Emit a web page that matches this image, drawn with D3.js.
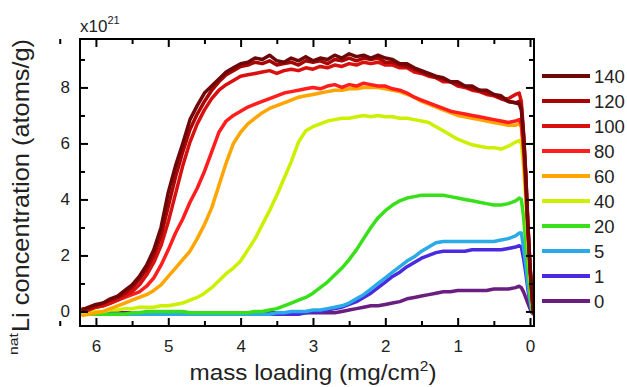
<!DOCTYPE html>
<html>
<head>
<meta charset="utf-8">
<script src="https://cdn.jsdelivr.net/npm/d3@7"></script>
<style>
  body { margin: 0; background: #fff; }
  svg { font-family: "Liberation Sans", Arial, sans-serif; }
  .axis path { display: none; }
  .axis line { stroke: #000; stroke-width: 2; }
  .axis text { font-size: 17px; fill: #222; }
</style>
</head>
<body>
<svg id="chart" width="627" height="387"></svg>
<script>
// mass loading grid (mg/cm^2)
const mass = [6.2,6.1,6.0,5.9,5.8,5.7,5.6,5.5,5.4,5.3,
  5.2,5.1,5.0,4.9,4.8,4.7,4.6,4.5,4.4,4.3,
  4.2,4.1,4.0,3.9,3.8,3.7,3.6,3.5,3.4,3.3,
  3.2,3.1,3.0,2.9,2.8,2.7,2.6,2.5,2.4,2.3,
  2.2,2.1,2.0,1.9,1.8,1.7,1.6,1.5,1.4,1.3,
  1.2,1.1,1.0,0.9,0.8,0.7,0.6,0.5,0.4,0.3,
  0.2,0.15,0.12,0.09,0.06,0.03,0.0,-0.03,-0.05];

// natLi concentration, x10^21 atoms/g
const li140 = [0.05,0.15,0.25,0.3,0.45,0.55,0.75,0.95,1.25,1.65,
  2.2,3.0,4.25,5.2,6.0,6.85,7.35,7.8,8.05,8.3,
  8.55,8.7,8.85,8.9,9.05,9.0,9.15,8.95,8.9,9.05,
  8.95,9.1,8.95,9.05,9.0,9.15,9.05,9.2,9.1,9.15,
  9.05,9.15,9.05,9.0,8.85,8.85,8.7,8.6,8.5,8.4,
  8.35,8.2,8.2,8.05,8.05,7.9,7.9,7.75,7.7,7.5,
  7.45,7.4,7.2,6.3,4.9,3.1,1.6,0.5,-0.1];
const li120 = [0.0,0.1,0.2,0.3,0.4,0.5,0.65,0.85,1.15,1.5,
  2.0,2.7,3.75,4.8,5.7,6.5,7.05,7.5,7.9,8.2,
  8.45,8.6,8.75,8.8,8.9,8.85,8.95,8.8,8.85,8.9,
  8.8,8.95,8.9,8.95,8.85,9.0,8.95,9.05,8.95,9.05,
  9.0,9.05,8.9,8.9,8.8,8.75,8.65,8.55,8.45,8.35,
  8.3,8.2,8.1,8.05,7.95,7.9,7.8,7.75,7.6,7.5,
  7.45,7.5,7.3,6.3,4.9,3.1,1.6,0.5,-0.1];
const li100 = [0.0,0.05,0.15,0.2,0.3,0.4,0.55,0.7,0.95,1.3,
  1.75,2.35,3.2,4.2,5.2,6.05,6.7,7.2,7.6,7.9,
  8.1,8.25,8.4,8.45,8.5,8.55,8.6,8.5,8.6,8.65,
  8.6,8.7,8.65,8.75,8.7,8.8,8.75,8.85,8.8,8.9,
  8.85,8.9,8.8,8.8,8.7,8.7,8.55,8.5,8.4,8.35,
  8.2,8.2,8.05,8.0,7.9,7.85,7.75,7.7,7.6,7.6,
  7.75,7.8,7.5,6.4,5.0,3.2,1.6,0.5,-0.1];
const li80 = [0.1,0.1,0.15,0.2,0.3,0.4,0.5,0.6,0.7,0.9,
  1.2,1.65,2.2,2.8,3.3,3.9,4.4,5.0,5.7,6.4,
  6.8,7.0,7.15,7.3,7.4,7.5,7.6,7.7,7.8,7.85,
  7.9,7.95,8.0,7.95,8.05,8.1,8.0,8.1,8.05,8.15,
  8.1,8.05,8.05,7.95,7.9,7.8,7.65,7.55,7.45,7.35,
  7.25,7.15,7.1,7.05,7.0,6.95,6.9,6.85,6.8,6.75,
  6.8,6.85,6.7,5.8,4.5,2.9,1.5,0.4,-0.1];
const li60 = [-0.15,-0.1,-0.05,0.0,0.1,0.2,0.3,0.4,0.5,0.6,
  0.75,0.95,1.25,1.55,1.85,2.15,2.6,3.1,3.7,4.5,
  5.3,6.0,6.4,6.7,6.9,7.1,7.25,7.35,7.45,7.55,
  7.65,7.7,7.75,7.8,7.85,7.9,7.9,7.95,7.95,8.0,
  8.0,8.0,7.95,7.9,7.85,7.75,7.65,7.5,7.4,7.3,
  7.2,7.1,7.0,6.95,6.9,6.85,6.8,6.75,6.7,6.65,
  6.65,6.7,6.6,5.7,4.4,2.9,1.5,0.4,-0.1];
const li40 = [-0.1,-0.05,0.0,0.0,0.05,0.05,0.1,0.1,0.15,0.15,
  0.15,0.2,0.2,0.25,0.3,0.4,0.5,0.65,0.85,1.1,
  1.35,1.55,1.8,2.2,2.6,3.1,3.6,4.15,4.75,5.35,
  6.05,6.45,6.6,6.7,6.8,6.85,6.9,6.9,6.95,7.0,
  6.95,7.0,6.95,6.95,6.9,6.9,6.85,6.8,6.75,6.6,
  6.45,6.3,6.15,6.05,5.95,5.9,5.85,5.85,5.8,5.9,
  6.05,6.1,6.0,5.2,4.0,2.6,1.3,0.3,-0.1];
const li20 = [-0.1,-0.1,-0.1,-0.1,-0.1,-0.1,-0.1,-0.05,-0.05,0.0,
  0.0,0.0,0.0,0.0,0.0,-0.05,-0.05,-0.05,-0.05,-0.05,
  -0.05,-0.05,-0.05,-0.05,0.0,0.0,0.05,0.1,0.2,0.3,
  0.4,0.5,0.65,0.85,1.05,1.3,1.55,1.85,2.2,2.6,
  3.0,3.35,3.6,3.8,3.95,4.05,4.1,4.15,4.15,4.15,
  4.15,4.1,4.05,4.0,3.95,3.9,3.85,3.8,3.8,3.85,
  3.95,4.05,4.0,3.4,2.5,1.6,0.7,0.0,-0.1];
const li5 = [-0.1,-0.1,-0.1,-0.1,-0.1,-0.1,-0.1,-0.1,-0.1,-0.1,
  -0.1,-0.1,-0.1,-0.1,-0.1,-0.1,-0.1,-0.1,-0.1,-0.1,
  -0.1,-0.1,-0.1,-0.1,-0.1,-0.1,-0.1,-0.05,-0.05,0.0,
  0.0,0.0,0.05,0.05,0.1,0.15,0.2,0.3,0.45,0.6,
  0.8,1.0,1.2,1.4,1.6,1.8,1.95,2.15,2.3,2.45,
  2.5,2.5,2.5,2.5,2.5,2.5,2.5,2.5,2.55,2.6,
  2.7,2.8,2.8,2.3,1.7,1.0,0.4,-0.05,-0.1];
const li1 = [-0.1,-0.1,-0.1,-0.1,-0.1,-0.1,-0.1,-0.1,-0.1,-0.1,
  -0.1,-0.1,-0.1,-0.1,-0.1,-0.1,-0.1,-0.1,-0.1,-0.1,
  -0.1,-0.1,-0.1,-0.1,-0.1,-0.1,-0.1,-0.1,-0.1,-0.1,
  -0.1,-0.05,0.0,0.0,0.05,0.1,0.15,0.25,0.35,0.5,
  0.65,0.85,1.05,1.25,1.4,1.6,1.75,1.9,2.0,2.1,
  2.15,2.15,2.15,2.15,2.2,2.2,2.2,2.2,2.2,2.25,
  2.3,2.35,2.3,1.9,1.4,0.8,0.3,-0.05,-0.1];
const li0 = [-0.05,-0.05,-0.05,-0.05,-0.05,-0.05,-0.05,-0.05,-0.05,-0.05,
  -0.05,-0.05,-0.05,-0.05,-0.05,-0.05,-0.05,-0.05,-0.05,-0.05,
  -0.05,-0.05,-0.05,-0.05,-0.05,-0.05,-0.05,-0.05,-0.05,-0.05,
  -0.05,-0.05,-0.05,-0.05,-0.05,-0.05,0.0,0.05,0.1,0.15,
  0.2,0.2,0.25,0.3,0.35,0.45,0.5,0.55,0.6,0.65,
  0.7,0.7,0.75,0.75,0.75,0.75,0.75,0.8,0.8,0.8,
  0.85,0.9,0.85,0.7,0.5,0.3,0.1,-0.05,-0.1];

const doses = ["140", "120", "100", "80", "60", "40", "20", "5", "1", "0"];
const colors = ["#6e0808", "#a80404", "#d81010", "#ff1e1e", "#ffa500",
  "#cdef00", "#38e01a", "#2aaae6", "#4a2ae0", "#6a1f80"];
const values = [li140, li120, li100, li80, li60, li40, li20, li5, li1, li0];

const xMajor = [6, 5, 4, 3, 2, 1, 0];
const xMinor = [6.5, 5.5, 4.5, 3.5, 2.5, 1.5, 0.5];
const yMajor = [0, 2, 4, 6, 8];
const yMinor = [1, 3, 5, 7, 9];

var svg = d3.select("#chart"),
    plot = { left: 80, right: 534, top: 39, bottom: 326 };

var x = d3.scaleLinear().domain([6.22, -0.055]).range([plot.left, plot.right]);
var y = d3.scaleLinear().domain([-0.52, 9.73]).range([plot.bottom, plot.top]);

svg.append("clipPath").attr("id", "clip")
  .append("rect")
  .attr("x", plot.left).attr("y", plot.top)
  .attr("width", plot.right - plot.left).attr("height", plot.bottom - plot.top);

// curves, lowest dose first so the dark ones sit on top
var line = d3.line()
  .x(function (d) { return x(d[0]); })
  .y(function (d) { return y(d[1]); });

var series = doses.map(function (dose, i) {
  return { dose: dose, color: colors[i], points: mass.map(function (m, j) { return [m, values[i][j]]; }) };
});

svg.append("g").attr("clip-path", "url(#clip)")
  .selectAll("path")
  .data(series.slice().reverse())
  .enter().append("path")
  .attr("d", function (d) { return line(d.points); })
  .attr("fill", "none")
  .attr("stroke", function (d) { return d.color; })
  .attr("stroke-width", 3.5)
  .attr("stroke-linejoin", "round");

// axes: ticks point inward on all four sides
var fmt = d3.format("d");
function addAxis(axis, tx, ty) {
  svg.append("g").attr("class", "axis")
    .attr("transform", "translate(" + tx + "," + ty + ")")
    .call(axis);
}
addAxis(d3.axisBottom(x).tickValues(xMajor).tickFormat(fmt).tickSizeInner(-8).tickSizeOuter(0).tickPadding(14), 0, plot.bottom);
addAxis(d3.axisBottom(x).tickValues(xMinor).tickSizeInner(-5).tickSizeOuter(0).tickFormat(""), 0, plot.bottom);
addAxis(d3.axisTop(x).tickValues(xMajor).tickSizeInner(-8).tickSizeOuter(0).tickFormat(""), 0, plot.top);
addAxis(d3.axisTop(x).tickValues(xMinor).tickSizeInner(-5).tickSizeOuter(0).tickFormat(""), 0, plot.top);
addAxis(d3.axisLeft(y).tickValues(yMajor).tickFormat(fmt).tickSizeInner(-8).tickSizeOuter(0).tickPadding(10), plot.left, 0);
addAxis(d3.axisLeft(y).tickValues(yMinor).tickSizeInner(-5).tickSizeOuter(0).tickFormat(""), plot.left, 0);
addAxis(d3.axisRight(y).tickValues(yMajor).tickSizeInner(-8).tickSizeOuter(0).tickFormat(""), plot.right, 0);
addAxis(d3.axisRight(y).tickValues(yMinor).tickSizeInner(-5).tickSizeOuter(0).tickFormat(""), plot.right, 0);

svg.append("rect")
  .attr("x", plot.left).attr("y", plot.top)
  .attr("width", plot.right - plot.left).attr("height", plot.bottom - plot.top)
  .attr("fill", "none").attr("stroke", "#000").attr("stroke-width", 2);

// exponent
var expo = svg.append("text").attr("x", plot.left).attr("y", 32)
  .attr("font-size", 17).attr("fill", "#222");
expo.append("tspan").text("x10");
expo.append("tspan").attr("font-size", 11).attr("dy", -8).text("21");

// axis titles
var xt = svg.append("text")
  .attr("x", 313).attr("y", 380)
  .attr("text-anchor", "middle")
  .attr("font-size", 22).attr("fill", "#222")
  .attr("textLength", 247).attr("lengthAdjust", "spacingAndGlyphs");
xt.append("tspan").text("mass loading (mg/cm");
xt.append("tspan").attr("font-size", 14).attr("dy", -9).text("2");
xt.append("tspan").attr("dy", 9).text(")");

svg.append("text")
  .attr("transform", "translate(18,355) rotate(-90)")
  .attr("font-size", 13).attr("fill", "#222")
  .attr("textLength", 22).attr("lengthAdjust", "spacingAndGlyphs")
  .text("nat");
svg.append("text")
  .attr("transform", "translate(29,332) rotate(-90)")
  .attr("font-size", 24).attr("fill", "#222")
  .attr("textLength", 293).attr("lengthAdjust", "spacingAndGlyphs")
  .text("Li concentration (atoms/g)");

// legend
var legend = svg.append("g").selectAll("g")
  .data(series)
  .enter().append("g")
  .attr("transform", function (d, i) { return "translate(542," + (76 + i * 25) + ")"; });
legend.append("line")
  .attr("x1", 0).attr("x2", 48)
  .attr("stroke", function (d) { return d.color; })
  .attr("stroke-width", 4);
legend.append("text")
  .attr("x", 52).attr("dy", "0.36em")
  .attr("font-size", 18.5).attr("fill", "#222")
  .text(function (d) { return d.dose; });
</script>
</body>
</html>
